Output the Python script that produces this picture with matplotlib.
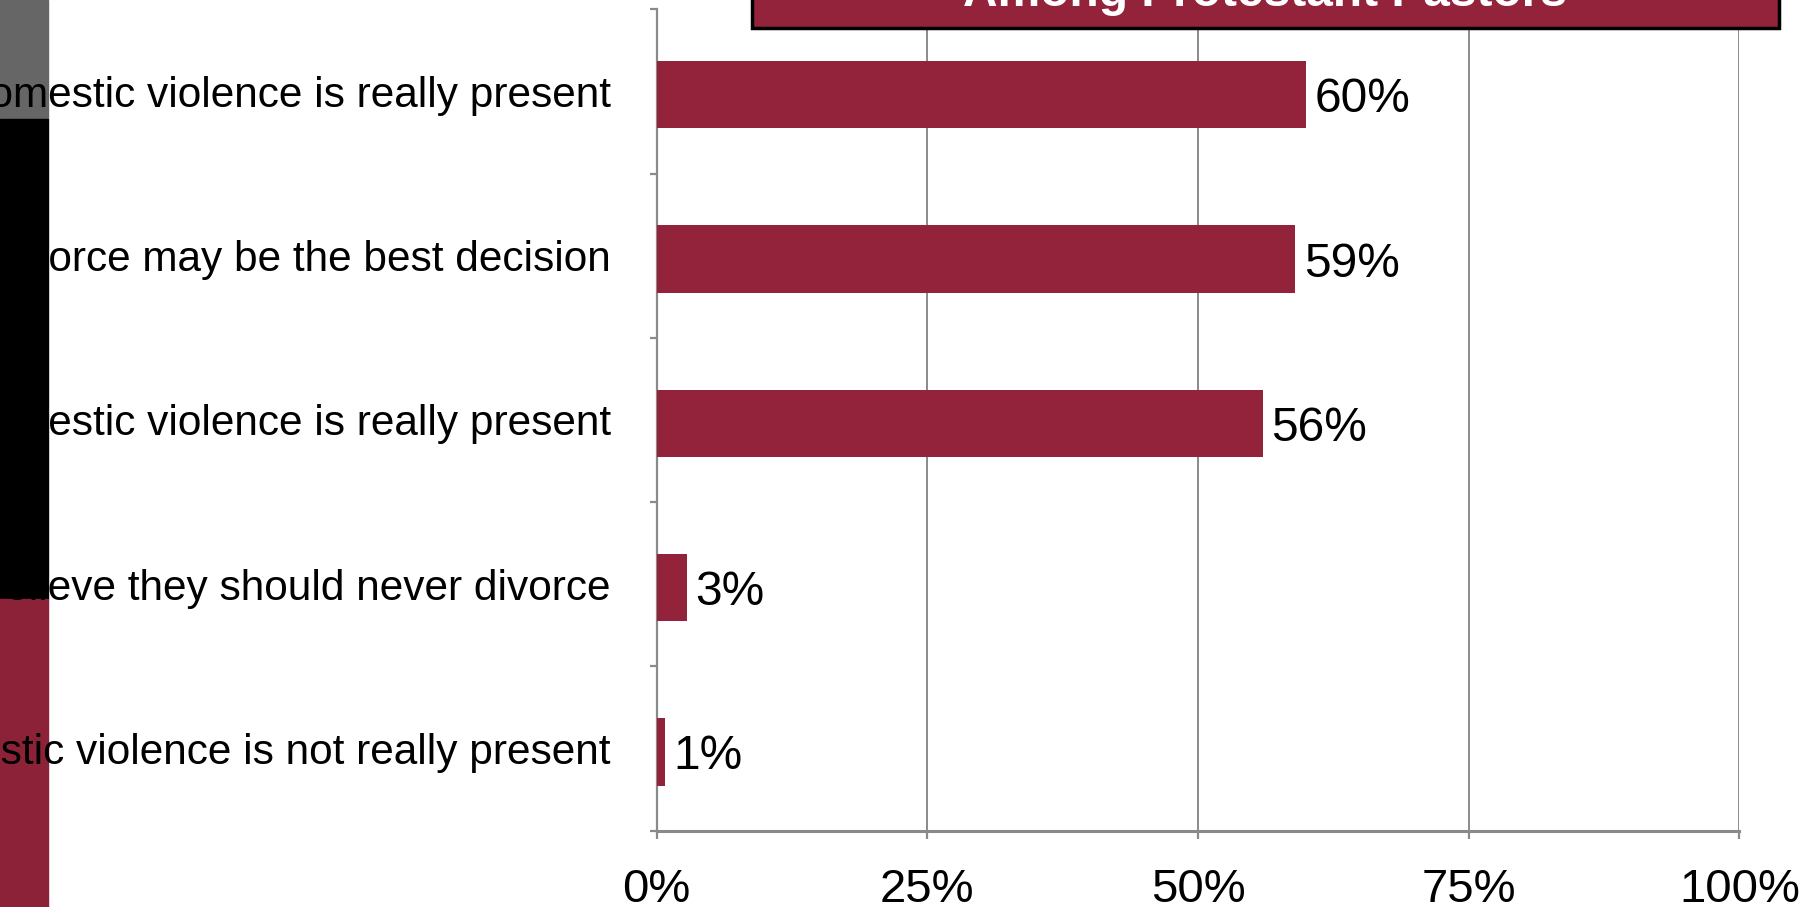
import matplotlib
matplotlib.use('Agg')
import matplotlib.pyplot as plt
from matplotlib.patches import Rectangle
from matplotlib.ticker import FixedLocator

# data (top to bottom)
labels = [
    'Divorce is appropriate when domestic violence is really present',
    'In some situations divorce may be the best decision',
    'Separation is appropriate when domestic violence is really present',
    'Believe they should never divorce',
    'Divorce is appropriate when domestic violence is not really present',
]
values = [60, 59, 56, 2.8, 0.8]
value_labels = ['60%', '59%', '56%', '3%', '1%']
x_ticks = [0, 25, 50, 75, 100]
x_tick_labels = ['0%', '25%', '50%', '75%', '100%']
title = 'Among Protestant Pastors'

bar_red = '#92233a'
strip_red = '#8b2238'
grid_gray = '#8a8a8a'

plt.rcParams['font.family'] = ['Liberation Sans', 'DejaVu Sans']

W, H = 1805, 907
fig = plt.figure(figsize=(W / 100, H / 100), dpi=100)
ax = fig.add_axes([656.5 / W, 1 - 830.7 / H, (1739.4 - 656.5) / W, (830.7 - 9.3) / H])

pos = list(range(len(labels)))
bar_pos = [p + 0.02 for p in pos]  # bars sit a touch below the band centre
ax.barh(bar_pos, values, height=0.41, color=bar_red, zorder=3)
for p, v, t in zip(bar_pos, values, value_labels):
    ax.annotate(t, (v, p), xytext=(6, 0), textcoords='offset points',
                ha='left', va='center_baseline', fontsize=34.5, color='black')

ax.set_xlim(0, 100)
ax.set_ylim(len(labels) - 0.5, -0.5)
ax.set_yticks(pos)
ax.set_yticklabels(labels, fontsize=30.5)
ax.yaxis.set_minor_locator(FixedLocator([i - 0.5 for i in range(len(labels) + 1)]))
ax.tick_params(axis='y', which='major', length=0, pad=33)
ax.tick_params(axis='y', which='minor', length=5, width=1.6, color=grid_gray, direction='out')

ax.set_xticks(x_ticks)
ax.set_xticklabels(x_tick_labels, fontsize=34)
ax.tick_params(axis='x', length=5.5, width=1.6, color=grid_gray, direction='out', pad=21)

ax.grid(axis='x', color=grid_gray, linewidth=1.4)
ax.set_axisbelow(True)
for s in ['top', 'right']:
    ax.spines[s].set_visible(False)
ax.spines['left'].set_color(grid_gray)
ax.spines['left'].set_linewidth(1.6)
ax.spines['bottom'].set_color(grid_gray)
ax.spines['bottom'].set_linewidth(2.2)

# slide decoration strip on the left
sw = 48 / W
fig.add_artist(Rectangle((0, 1 - 119 / H), sw, 119 / H, transform=fig.transFigure,
                         color='#666666', zorder=-1))
fig.add_artist(Rectangle((0, 1 - 599 / H), sw, 480 / H, transform=fig.transFigure,
                         color='black', zorder=-1))
fig.add_artist(Rectangle((0, 0), sw, 1 - 599 / H, transform=fig.transFigure,
                         color=strip_red, zorder=-1))

# title box, cut off by the top edge
fig.add_artist(Rectangle((752 / W, 1 - 28 / H), (1779 - 752) / W, 0.2,
                         transform=fig.transFigure, facecolor=bar_red,
                         edgecolor='black', linewidth=2.5, zorder=5))
fig.text(1265 / W, 1 - 6 / H, title, ha='center', va='baseline', color='white',
         fontsize=34.5, fontweight='bold', zorder=6)

fig.savefig('out.png', dpi=100)
